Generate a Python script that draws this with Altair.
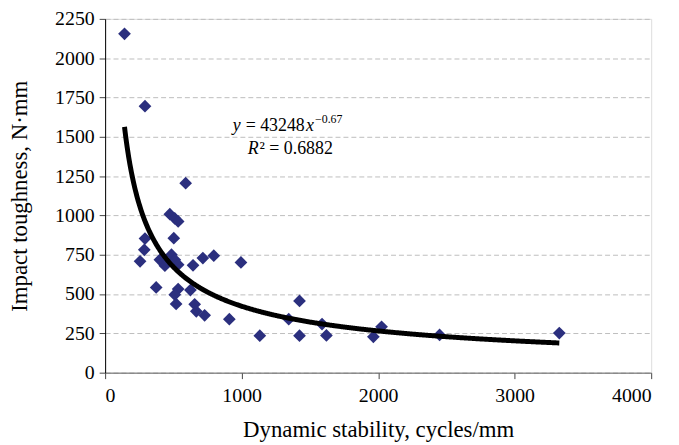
import altair as alt
import pandas as pd

# Data
stability = [142, 292, 590, 474, 510, 535, 292, 503, 287, 256, 401, 438, 486, 510,
             535, 644, 716, 796, 995, 374, 535, 625, 510, 520, 656, 668, 729, 910,
             1133, 1345, 1424, 1424, 1589, 1621, 1965, 2025, 2450, 3327]
toughness = [2155, 1695, 1205, 1008, 981, 962, 853, 855, 781, 708, 718, 680, 750, 718,
             687, 683, 729, 744, 701, 542, 532, 525, 496, 437, 435, 390, 365, 340,
             235, 340, 456, 235, 309, 237, 228, 292, 240, 252]

fit_coef = 43248
fit_exp = -0.67
fit_range = [142, 3327]
r_squared = "0.6882"

x_ticks = [0, 1000, 2000, 3000, 4000]
y_ticks = [0, 250, 500, 750, 1000, 1250, 1500, 1750, 2000, 2250]

FONT = "Liberation Serif"
NAVY = "#2b2f7e"

df = pd.DataFrame({"x": stability, "y": toughness})

xscale = alt.Scale(domain=[0, 4000], nice=False, zero=True)
yscale = alt.Scale(domain=[0, 2250], nice=False, zero=True)

xaxis = alt.Axis(title="Dynamic stability, cycles/mm", values=x_ticks, grid=False,
                 labelFont=FONT, titleFont=FONT, labelFontSize=20, titleFontSize=23,
                 titleFontWeight="normal", labelColor="black", titleColor="black",
                 domainColor="#666666", tickColor="#444444", tickSize=6,
                 labelPadding=7, titlePadding=13, format="d", labelOverlap=False)
yaxis = alt.Axis(title="Impact toughness, N·mm", values=y_ticks, grid=True,
                 gridDash=[5, 3], gridColor="#bdbdbd", gridWidth=1,
                 labelFont=FONT, titleFont=FONT, labelFontSize=20, titleFontSize=23,
                 titleFontWeight="normal", labelColor="black", titleColor="black",
                 domainColor="black", tickColor="#444444", tickSize=6,
                 labelPadding=5, titlePadding=23, format="d", labelOverlap=False)

X = alt.X("x:Q", scale=xscale, axis=xaxis)
Y = alt.Y("y:Q", scale=yscale, axis=yaxis)

points = alt.Chart(df).mark_point(shape="diamond", filled=True, size=165,
                                  color=NAVY, opacity=1).encode(x=X, y=Y)

curve = alt.Chart(alt.sequence(fit_range[0], fit_range[1] + 1, 5, as_="x")).transform_calculate(
    y=f"{fit_coef}*pow(datum.x,{fit_exp})"
).mark_line(color="black", strokeWidth=5, clip=True).encode(x=X, y=Y)

# Equation annotation (anchored in data coordinates)
eq_x = 935
eq_y1 = 1569
eq_y2 = 1424


def piece(text, x, y, dx=0, dy=0, size=18, italic=False):
    return alt.Chart(pd.DataFrame({"x": [x], "y": [y], "t": [text]})).mark_text(
        font=FONT, fontSize=size, fontStyle="italic" if italic else "normal",
        align="left", baseline="middle", dx=dx, dy=dy, color="black"
    ).encode(x=X, y=Y, text="t:N")


annot = [
    piece("y", eq_x, eq_y1, dx=0, italic=True),
    piece("= 43248", eq_x, eq_y1, dx=13),
    piece("x", eq_x, eq_y1, dx=74, italic=True),
    piece("−0.67", eq_x, eq_y1, dx=83, dy=-7, size=12),
    piece("R", eq_x, eq_y2, dx=15, italic=True),
    piece("² = " + r_squared, eq_x, eq_y2, dx=27),
]

chart = alt.layer(points, curve, *annot).properties(
    width=551, height=357,
    autosize=alt.AutoSizeParams(type="none"),
    padding={"left": 98, "top": 9, "right": 20, "bottom": 70},
).configure_view(stroke=None).configure_axis(
    labelFont=FONT, titleFont=FONT
).configure_text(font=FONT).configure(background="white")

chart.save("out.html", embed_options={"renderer": "svg", "actions": False})
